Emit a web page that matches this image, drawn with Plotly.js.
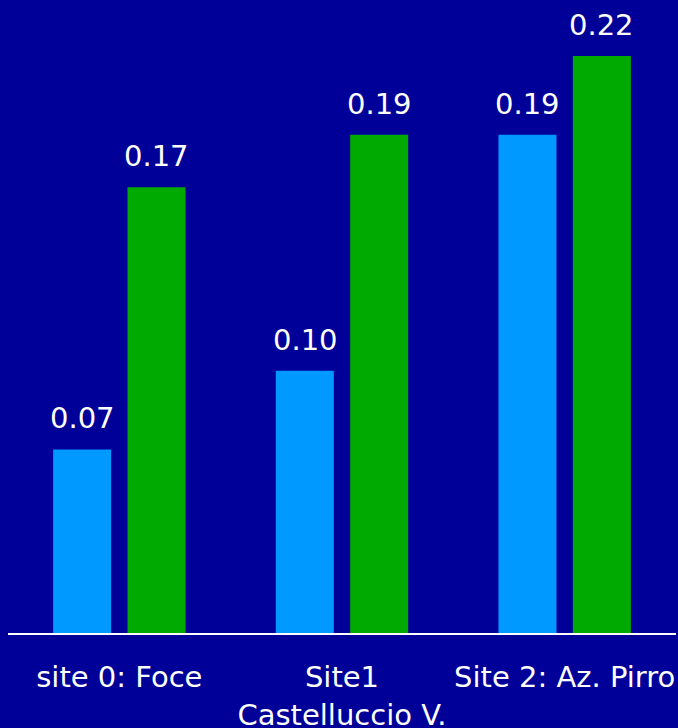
<!DOCTYPE html>
<html>
<head>
<meta charset="utf-8">
<script src="https://cdn.plot.ly/plotly-3.0.1.min.js"></script>
<style>
  html, body { margin: 0; padding: 0; background: #000099; }
  #chart { width: 678px; height: 728px; }
</style>
</head>
<body>
<div id="chart"></div>
<script>
// Sites along the x axis
const sites = ['site 0: Foce', 'Site1<br>Castelluccio V.', 'Site 2: Az. Pirro'];
// Two measured series per site
const seriesA = [0.07, 0.10, 0.19];
const seriesB = [0.17, 0.19, 0.22];

const FONT = 'DejaVu Sans, Verdana, sans-serif';
const colorA = '#0099FF';
const colorB = '#00AA00';
const bg = '#000099';

const traces = [
  { type: 'bar', x: sites, y: seriesA, marker: { color: colorA }, hoverinfo: 'skip' },
  { type: 'bar', x: sites, y: seriesB, marker: { color: colorB }, hoverinfo: 'skip' }
];

// Value labels above each bar, shifted to its slot in the group
const slotShift = 37;
const annotations = [];
[[seriesA, -slotShift], [seriesB, slotShift]].forEach(([vals, dx]) => {
  vals.forEach((v, i) => {
    annotations.push({
      x: sites[i], y: v, xref: 'x', yref: 'y',
      text: v.toFixed(2), showarrow: false,
      xshift: dx, yanchor: 'bottom', yshift: 12,
      font: { family: FONT, size: 29, color: '#FFFFFF' }
    });
  });
});

const layout = {
  width: 678, height: 728,
  margin: { l: 8, r: 2, t: 0, b: 95 },
  paper_bgcolor: bg, plot_bgcolor: bg,
  showlegend: false,
  barmode: 'group',
  bargap: 0.332,
  bargroupgap: 0.22,
  font: { family: FONT, size: 29, color: '#FFFFFF' },
  xaxis: {
    showline: true, linecolor: '#FFFFFF', linewidth: 1.5,
    showgrid: false, zeroline: false, ticks: '',
    ticklabelstandoff: 18,
    tickfont: { family: FONT, size: 29, color: '#FFFFFF' },
    fixedrange: true
  },
  yaxis: {
    range: [0, 0.2414], visible: false, showgrid: false, zeroline: false,
    fixedrange: true
  },
  annotations: annotations
};

Plotly.newPlot('chart', traces, layout, { displayModeBar: false, staticPlot: true });
</script>
</body>
</html>
